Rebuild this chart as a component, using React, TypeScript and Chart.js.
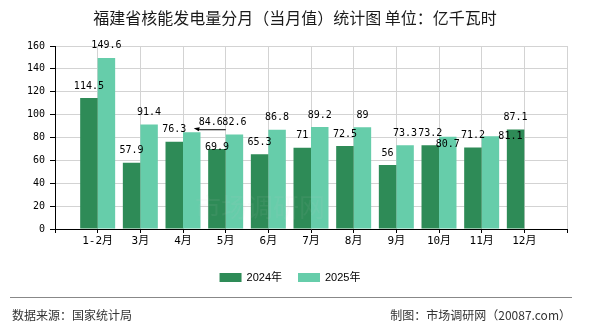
import React, { useEffect, useRef } from 'react';
import { Chart, registerables } from 'chart.js';

Chart.register(...registerables);

// Monthly nuclear power generation in Fujian (100 million kWh)
const months = ['1-2月', '3月', '4月', '5月', '6月', '7月', '8月', '9月', '10月', '11月', '12月'];
const output2024 = [114.5, 57.9, 76.3, 69.9, 65.3, 71, 72.5, 56, 73.2, 71.2, 87.1];
const output2025: (number | null)[] = [149.6, 91.4, 84.6, 82.6, 86.8, 89.2, 89, 73.3, 80.7, 81.1, null];
const seriesNames = ['2024年', '2025年'];
const seriesColors = ['#2E8B57', '#66CDAA'];
const yMin = 0;
const yMax = 160;
const yStep = 20;

const titleText = '福建省核能发电量分月（当月值）统计图 单位：亿千瓦时';
const sourceText = '数据来源：国家统计局';
const creditText = '制图：市场调研网（20087.com）';
const watermarkText = '市场调研网';

// Labels that would collide with neighbours are nudged: [series, month] -> [dx, dy]
const labelNudges: Record<string, [number, number]> = {
  '0-3': [0, 10],
  '1-2': [19, 2],
  '1-8': [0, 20],
  '1-9': [20, 12],
};
// Labels drawn with a leader line back to their bar
const leaderLabels = new Set(['1-2']);

const W = 590;
const H = 330;
const monoFont = '"DejaVu Sans Mono", "Noto Sans CJK SC", monospace';
const cjkFont = '"Noto Sans CJK SC", "Liberation Sans", sans-serif';

// The axis has an empty slot on each side, so the months sit on ticks 1..11
const axisLabels = ['', ...months, ''];
const pad = (arr: (number | null)[]) => [null, ...arr, null];

const decorPlugin = {
  id: 'decor',
  afterDatasetsDraw(chart: any) {
    const ctx = chart.ctx as CanvasRenderingContext2D;
    const area = chart.chartArea;

    // faint watermark over the plot
    ctx.save();
    ctx.font = `26px ${cjkFont}`;
    ctx.fillStyle = 'rgba(200, 200, 200, 0.08)';
    ctx.textAlign = 'left';
    ctx.textBaseline = 'middle';
    ctx.fillText(watermarkText, area.left + 140, area.bottom - 22);
    ctx.restore();

    // value labels
    ctx.save();
    ctx.font = `10px ${monoFont}`;
    ctx.fillStyle = '#000';
    ctx.textAlign = 'center';
    ctx.textBaseline = 'middle';
    chart.data.datasets.forEach((ds: any, di: number) => {
      const meta = chart.getDatasetMeta(di);
      meta.data.forEach((el: any, i: number) => {
        const v = ds.data[i];
        if (v === null || v === undefined) return;
        const key = `${di}-${i - 1}`;
        const [dx, dy] = labelNudges[key] || [0, 0];
        const lx = el.x + dx;
        const ly = el.y - 12 + dy;
        ctx.fillText(String(v), lx, ly);
        if (leaderLabels.has(key)) {
          const lineY = ly + 7;
          ctx.strokeStyle = '#000';
          ctx.lineWidth = 1;
          ctx.beginPath();
          ctx.moveTo(lx - 12, lineY + 0.5);
          ctx.lineTo(lx + 15, lineY + 0.5);
          ctx.stroke();
          ctx.beginPath();
          ctx.moveTo(lx - 17, lineY - 1);
          ctx.lineTo(lx - 11, lineY - 2);
          ctx.lineTo(lx - 12, lineY + 2);
          ctx.closePath();
          ctx.fill();
        }
      });
    });
    ctx.restore();
  },
  afterDraw(chart: any) {
    const ctx = chart.ctx as CanvasRenderingContext2D;
    ctx.save();

    // title
    ctx.font = `16px ${cjkFont}`;
    ctx.fillStyle = '#1a1a1a';
    ctx.textAlign = 'center';
    ctx.textBaseline = 'middle';
    ctx.fillText(titleText, W / 2, 18);

    // legend
    ctx.font = `11px "Liberation Sans", ${cjkFont}`;
    ctx.textAlign = 'left';
    const boxW = 22;
    const boxH = 9;
    const gapText = 5;
    const gapItem = 16;
    const widths = seriesNames.map((n) => boxW + gapText + ctx.measureText(n).width);
    const total = widths.reduce((a, b) => a + b, 0) + gapItem * (widths.length - 1);
    let x = 290 - total / 2;
    const ly = 277.5;
    seriesNames.forEach((n, i) => {
      ctx.fillStyle = seriesColors[i];
      ctx.fillRect(x, ly - boxH / 2, boxW, boxH);
      ctx.fillStyle = '#000';
      ctx.fillText(n, x + boxW + gapText, ly + 0.5);
      x += widths[i] + gapItem;
    });

    // footer rule and credits
    ctx.strokeStyle = '#888';
    ctx.lineWidth = 1;
    ctx.beginPath();
    ctx.moveTo(10, 297.5);
    ctx.lineTo(572, 297.5);
    ctx.stroke();

    ctx.font = `12px ${cjkFont}`;
    ctx.fillStyle = '#333';
    ctx.textAlign = 'left';
    ctx.fillText(sourceText, 12, 315);
    ctx.textAlign = 'right';
    ctx.fillText(creditText, 571, 315);

    ctx.restore();
  },
};

export default function App() {
  const canvasRef = useRef<HTMLCanvasElement | null>(null);

  useEffect(() => {
    if (!canvasRef.current) return;
    const chart = new Chart(canvasRef.current, {
      type: 'bar',
      data: {
        labels: axisLabels,
        datasets: [
          {
            label: seriesNames[0],
            data: pad(output2024),
            backgroundColor: seriesColors[0],
            borderWidth: 0,
            categoryPercentage: 0.82,
            barPercentage: 1,
          },
          {
            label: seriesNames[1],
            data: pad(output2025),
            backgroundColor: seriesColors[1],
            borderWidth: 0,
            categoryPercentage: 0.82,
            barPercentage: 1,
          },
        ],
      },
      options: {
        responsive: false,
        animation: false,
        devicePixelRatio: 1,
        layout: { padding: { left: 0, right: 23, top: 46, bottom: 0 } },
        plugins: {
          legend: { display: false },
          tooltip: { enabled: false },
          title: { display: false },
        },
        scales: {
          x: {
            type: 'category',
            offset: false,
            grid: {
              offset: false,
              color: '#d3d3d3',
              tickColor: '#000',
              tickLength: 4,
              drawTicks: true,
            },
            border: { color: '#000', width: 1 },
            ticks: {
              autoSkip: false,
              maxRotation: 0,
              minRotation: 0,
              padding: 2,
              color: '#000',
              font: { family: monoFont, size: 11 },
            },
            afterFit: (s: any) => {
              s.height = 101;
            },
          },
          y: {
            min: yMin,
            max: yMax,
            grid: {
              color: '#d3d3d3',
              tickColor: '#000',
              tickLength: 5,
            },
            border: { color: '#000', width: 1 },
            ticks: {
              stepSize: yStep,
              padding: 5,
              color: '#000',
              font: { family: monoFont, size: 10 },
            },
            afterFit: (s: any) => {
              s.width = 55;
            },
          },
        },
      },
      plugins: [decorPlugin],
    });
    return () => chart.destroy();
  }, []);

  return (
    <div style={{ position: 'fixed', left: 0, top: 0, width: W, height: H, background: '#fff' }}>
      <canvas ref={canvasRef} width={W} height={H} />
    </div>
  );
}
